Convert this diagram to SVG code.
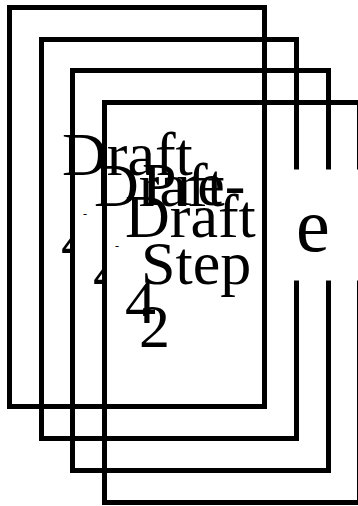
<svg xmlns="http://www.w3.org/2000/svg" width="358" height="506" viewBox="0 0 358 506">
<style>
.box{fill:none;stroke:#000;stroke-width:5}
.t{font-family:"Liberation Serif","Times New Roman",serif;font-size:62px;fill:#000}
.d{font-family:"Liberation Serif","Times New Roman",serif;font-size:12px;fill:#000}
</style>
<defs>
<clipPath id="c1"><rect x="0" y="0" width="70" height="506"/></clipPath>
<clipPath id="c2"><rect x="0" y="0" width="102" height="506"/></clipPath>
</defs>
<rect width="358" height="506" fill="#fff"/>
<g id="connectors"></g>
<g id="node1">
<rect class="box" x="9.5" y="7.5" width="255" height="399"/>
<text class="t" x="62" y="175">Draft</text>
<text class="t" x="61" y="262" clip-path="url(#c1)">4</text>
<text class="d" x="83" y="218">-</text>
</g>
<g id="node2">
<rect class="box" x="41.5" y="39.5" width="255" height="399"/>
<text class="t" x="94" y="206">Draft</text>
<text class="t" x="93" y="293" clip-path="url(#c2)">4</text>
<text class="d" x="115" y="250">-</text>
</g>
<g id="node3">
<rect class="box" x="72.5" y="70.5" width="256" height="400"/>
<text class="t" x="125" y="237">Draft</text>
<text class="t" x="125" y="323">4</text>
</g>
<g id="node4">
<rect class="box" x="104.5" y="102.5" width="255" height="400"/>
<text class="t" x="142" y="205">Pre-</text>
<text class="t" x="141" y="284">Step</text>
<text class="t" x="139" y="347">2</text>
<rect x="275" y="169.5" width="85" height="111" fill="#fff"/>
<text class="t" x="296" y="251" style="font-size:76px">e</text>
</g>
</svg>
